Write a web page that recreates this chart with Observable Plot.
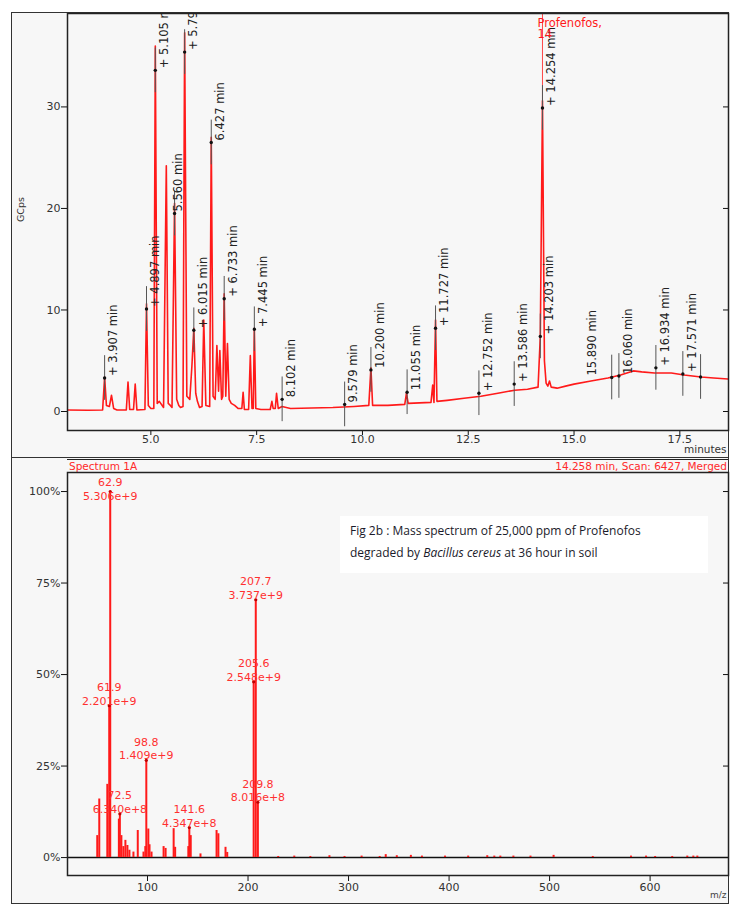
<!DOCTYPE html>
<html><head><meta charset="utf-8">
<script src="https://cdn.jsdelivr.net/npm/d3@7"></script>
<script src="https://cdn.jsdelivr.net/npm/@observablehq/plot@0.6"></script>
<style>
body{margin:0;background:#fff;}
#wrap{position:relative;width:740px;height:907px;overflow:hidden;font-family:"DejaVu Sans",sans-serif;}
.frame{position:absolute;border:1.5px solid #333;background:#f7f7f7;box-sizing:border-box;}
#hdr{position:absolute;left:67px;top:459px;width:661px;height:12px;border-top:1px solid #222;border-bottom:1px solid #222;font-size:10.5px;line-height:12px;color:#ff2a2a;}
#hdr .l{position:absolute;left:2px;top:0;}
#hdr .r{position:absolute;right:1px;top:0;}
#caption{position:absolute;left:340px;top:516px;width:358px;height:53px;padding:4px 0 0 10px;background:#fff;font-family:"Open Sans",sans-serif;font-size:12px;line-height:22px;color:#1a1a2a;}
.chart{position:absolute;left:0;}
</style></head>
<body>
<div id="wrap">
  <div class="frame" style="left:11px;top:12px;width:718px;height:446px"></div>
  <div class="frame" style="left:11px;top:457px;width:718px;height:447px"></div>
  <div id="hdr"><span class="l">Spectrum 1A</span><span class="r">14.258 min, Scan: 6427, Merged</span></div>
  <div id="topChart" class="chart" style="top:0"></div>
  <div id="botChart" class="chart" style="top:457px"></div>
  <div id="caption">Fig 2b : Mass spectrum of 25,000 ppm of Profenofos<br>degraded by <i>Bacillus cereus</i> at 36 hour in soil</div>
</div>
<script>
// ---------- Chromatogram (TIC) ----------
const traceTime = [3.03,3.50,3.86,3.907,3.95,4.02,4.07,4.12,4.20,4.42,4.46,4.50,4.59,4.63,4.67,4.86,4.897,4.94,5.00,5.07,5.105,5.15,5.20,5.30,5.365,5.41,5.46,5.50,5.56,5.61,5.66,5.70,5.76,5.798,5.85,5.92,5.97,6.015,6.06,6.10,6.15,6.21,6.25,6.30,6.39,6.427,6.47,6.52,6.56,6.60,6.63,6.67,6.70,6.733,6.77,6.81,6.85,6.90,6.98,7.06,7.15,7.18,7.21,7.31,7.35,7.39,7.42,7.445,7.48,7.60,7.82,7.86,7.89,7.94,7.97,8.01,8.10,8.30,8.80,9.30,9.80,10.15,10.20,10.24,10.60,11.00,11.04,11.08,11.62,11.66,11.69,11.727,11.76,12.00,12.40,12.80,13.20,13.60,13.90,14.15,14.203,14.254,14.30,14.34,14.38,14.42,14.46,14.60,14.80,15.00,15.40,15.80,16.10,16.40,16.60,16.90,17.30,17.60,18.00,18.30,18.65];
const traceGCps = [0.15,0.12,0.15,3.4,0.6,0.5,1.6,0.3,0.15,0.15,2.9,0.2,0.2,2.7,0.15,0.2,10.6,0.6,0.3,0.3,36.0,0.8,1.0,0.4,24.2,0.8,0.6,0.4,20.5,1.2,0.6,0.4,0.5,37.3,1.5,1.2,4.5,8.2,1.8,1.0,0.4,0.5,9.0,0.6,0.5,27.0,1.5,1.2,6.5,2.0,6.0,1.2,1.5,11.6,1.5,6.7,1.2,0.8,0.6,0.3,0.3,1.9,0.2,0.2,5.5,0.3,0.3,8.2,0.3,0.2,0.2,1.0,0.3,0.3,1.8,0.3,0.5,0.3,0.35,0.4,0.5,0.6,4.3,0.6,0.6,0.7,1.8,0.8,0.9,2.6,0.9,9.0,1.0,1.1,1.3,1.5,1.8,2.1,2.2,2.4,7.4,30.6,5.0,2.8,2.5,3.0,2.4,2.3,2.5,2.7,3.0,3.3,3.6,4.0,3.9,3.8,3.8,3.6,3.4,3.3,3.2];

const peakTime  = [3.907,4.897,5.105,5.798,5.560,6.015,6.427,6.733,7.445,8.102,9.579,10.200,11.055,11.727,12.752,13.586,14.203,14.254,15.890,16.060,16.934,17.571,17.990];
const peakLevel = [3.3,10.1,33.6,35.4,19.5,8.0,26.5,11.1,8.1,1.2,0.7,4.1,1.9,8.2,1.8,2.7,7.4,29.9,3.35,3.5,4.3,3.7,3.4];
const peakLabel = ["+ 3.907 min","+ 4.897 min","+ 5.105 min","+ 5.798 min","5.560 min","+ 6.015 min","6.427 min","+ 6.733 min","+ 7.445 min","8.102 min","9.579 min","10.200 min","11.055 min","+ 11.727 min","+ 12.752 min","+ 13.586 min","+ 14.203 min","+ 14.254 min","15.890 min","16.060 min","+ 16.934 min","+ 17.571 min",""];

const compoundTime = [14.254];
const compoundLevel = [30.6];
const compoundName = ["Profenofos,\n14"];

const xTicksTop = [5, 7.5, 10, 12.5, 15, 17.5];
const yTicksTop = [0, 10, 20, 30];

// ---------- Mass spectrum ----------
const specMz  = [50.0,52.0,60.0,61.9,62.9,71.5,72.5,74.0,76.0,78.0,80.0,82.0,86.0,90.3,96.0,97.8,98.8,100.8,102.0,104.0,116.0,118.0,126.0,127.5,140.6,141.6,143.0,152.7,168.7,170.5,177.6,179.3,205.6,207.7,209.8,230,246,262,281,296,313,331,337,348,362,373,396,419,438,445,451,464,481,504,543,581,596,605,622,637,643,647];
const specPct = [6.0,16.0,20.0,41.5,100,10.5,11.9,6.0,3.0,4.7,3.3,2.0,1.5,7.4,1.5,3.0,26.6,7.8,3.5,1.5,3.0,2.5,7.9,2.8,3.0,8.2,6.0,1.0,7.4,6.5,2.8,1.4,48.0,70.4,15.1,0.3,0.4,0.3,0.5,0.3,0.4,0.3,0.8,0.5,0.6,0.4,0.4,0.4,0.5,0.4,0.4,0.4,0.4,0.6,0.3,0.4,0.4,0.3,0.3,0.4,0.4,0.4];

const labelMz    = [62.9,61.9,72.5,98.8,141.6,207.7,205.6,209.8];
const labelAbund = ["5.306e+9","2.201e+9","6.340e+8","1.409e+9","4.347e+8","3.737e+9","2.548e+9","8.016e+8"];
const basePeak = 5.306e9;

const xTicksBot = [100, 200, 300, 400, 500, 600];
const yTicksBot = [0, 25, 50, 75, 100];

// ---------- build tables ----------
const trace = traceTime.map((t, i) => ({t, v: traceGCps[i]}));
const markers = peakTime.map((t, i) => ({t, v: peakLevel[i], label: peakLabel[i]}));
const yTop = [-1.87, 39.2];
const compounds = compoundTime.map((t, i) => ({t, v: compoundLevel[i], name: compoundName[i]}));
const spec = specMz.map((mz, i) => ({mz, pct: specPct[i]}));
const labels = labelMz.map((mz, i) => ({mz, pct: +labelAbund[i] / basePeak * 100, text: mz.toFixed(1) + "\n" + labelAbund[i]}));

const RED = "#ff1a1a";
const font = {fontFamily: "DejaVu Sans", fontSize: "11px", color: "#333", background: "transparent", overflow: "visible"};
const labelShift = {"5.560 min": 4, "15.890 min": -19};

const topPlot = Plot.plot({
  width: 740, height: 457,
  marginTop: 13, marginBottom: 27, marginLeft: 67, marginRight: 12,
  style: font,
  x: {domain: [3.03, 18.65]},
  y: {domain: yTop},
  marks: [
    Plot.axisX({ticks: xTicksTop, tickFormat: d3.format(".1f"), tickSize: 5, tickPadding: 0, label: null, stroke: "#111"}),
    Plot.axisY({ticks: yTicksTop, tickSize: 6, tickPadding: 1, label: null, stroke: "#111"}),
    Plot.axisY({anchor: "right", ticks: yTicksTop, tickSize: -6, tickFormat: () => "", label: null, stroke: "#111"}),
    Plot.ruleX(compounds, {x: "t", y1: "v", y2: () => yTop[1], stroke: RED, strokeWidth: 0.8}),
    Plot.line(trace, {x: "t", y: "v", stroke: RED, strokeWidth: 1.6, clip: true}),
    Plot.ruleX(markers, {x: "t", y1: d => d.v - 2.2, y2: d => d.v + 2.2, stroke: "#555", strokeWidth: 1}),
    Plot.dot(markers, {x: "t", y: "v", r: 1.7, fill: "#111"}),
    Plot.text(markers.filter(d => !(d.label in labelShift)), {x: "t", y: "v", text: "label", rotate: -90, textAnchor: "start", dx: 9, dy: -2, fontSize: 11.5, fill: "#222", clip: true}),
    ...Object.entries(labelShift).map(([lab, dx]) =>
      Plot.text(markers.filter(d => d.label === lab), {x: "t", y: "v", text: "label", rotate: -90, textAnchor: "start", dx, dy: -2, fontSize: 11.5, fill: "#222", clip: true})),
    Plot.text(compounds, {x: "t", frameAnchor: "top", text: "name", textAnchor: "start", lineAnchor: "top", dx: -5, dy: 5, lineHeight: 1.0, fontSize: 11.5, fill: RED}),
    Plot.text(["GCps"], {text: d => d, frameAnchor: "left", dx: -47, rotate: -90, fontSize: 9.5, fill: "#333"}),
    Plot.text(["minutes"], {text: d => d, frameAnchor: "bottom-right", dx: -2, dy: 22, textAnchor: "end", fontSize: 10.5, fill: "#333"}),
    Plot.frame({stroke: "#222", strokeWidth: 1.5})
  ]
});
document.getElementById("topChart").appendChild(topPlot);

const botPlot = Plot.plot({
  width: 740, height: 450,
  marginTop: 15, marginBottom: 32, marginLeft: 67, marginRight: 12,
  style: font,
  x: {domain: [20.4, 678]},
  y: {domain: [-4.9, 105.2]},
  marks: [
    Plot.axisX({ticks: xTicksBot, tickFormat: d3.format("d"), tickSize: 6, tickPadding: 2, label: null, stroke: "#111"}),
    Plot.axisY({ticks: yTicksBot, tickFormat: d => d + "%", tickSize: 6, tickPadding: 1, label: null, stroke: "#111"}),
    Plot.axisY({anchor: "right", ticks: yTicksBot.filter(d => d > 0), tickSize: -6, tickFormat: () => "", label: null, stroke: "#111"}),
    Plot.ruleY([0], {stroke: "#111", strokeWidth: 1.5}),
    Plot.ruleX(spec, {x: "mz", y1: 0, y2: "pct", stroke: RED, strokeWidth: 2}),
    Plot.dot(labels, {x: "mz", y: "pct", r: 1.6, fill: "#c00000"}),
    Plot.text(labels.filter(d => d.pct < 95), {x: "mz", y: "pct", text: "text", lineAnchor: "bottom", dy: -1, lineHeight: 1.25, fontSize: 11, fill: "#ff3030"}),
    Plot.text(labels.filter(d => d.pct >= 95), {x: "mz", frameAnchor: "top", text: "text", lineAnchor: "top", dy: 4, lineHeight: 1.25, fontSize: 11, fill: "#ff3030"}),
    Plot.text(["m/z"], {text: d => d, frameAnchor: "bottom-right", dx: -2, dy: 22, textAnchor: "end", fontSize: 9, fill: "#444"}),
    Plot.frame({stroke: "#222", strokeWidth: 1.5})
  ]
});
document.getElementById("botChart").appendChild(botPlot);
</script>
</body></html>
